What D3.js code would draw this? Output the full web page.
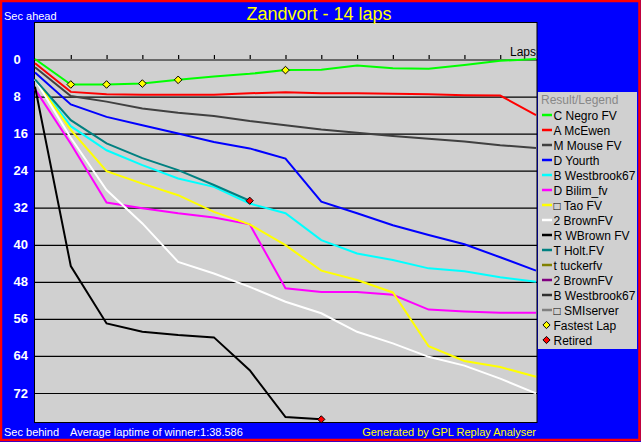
<!DOCTYPE html>
<html><head><meta charset="utf-8">
<script src="https://cdn.jsdelivr.net/npm/d3@7"></script>
<style>
html,body{margin:0;padding:0;background:#0000ff;}
svg{display:block;}
text{font-family:Arial,"Liberation Sans",sans-serif;}
</style></head>
<body>
<svg id="c" width="641" height="442"></svg>
<script>
// ---- data ----
const laps = [0,1,2,3,4,5,6,7,8,9,10,11,12,13,14];
const yTicks = [0,8,16,24,32,40,48,56,64,72];
const negro     = [0,5.5,5.5,5.3,4.5,3.8,3.2,2.4,2.3,1.4,2.0,2.1,1.3,0.4,0];
const mcewen    = [0.9,7.1,7.6,7.7,7.7,7.7,7.4,7.2,7.4,7.4,7.5,7.6,7.8,7.9,12.1];
const mouse     = [1.8,8.0,9.2,10.7,11.6,12.3,13.4,14.3,15.2,15.9,16.6,17.2,17.8,18.6,19.2];
const yourth    = [2.9,9.8,12.5,14.3,16.1,17.9,19.3,21.5,30.8,33.3,35.9,38.0,40.0,42.8,45.7];
const westbrook = [4.4,14.5,19.7,22.9,25.8,27.6,31.2,33.3,39.1,42.0,43.4,45.2,45.8,47.1,48.1];
const bilim     = [6.5,18.3,31.0,32.2,33.3,34.2,35.7,49.5,50.3,50.3,50.9,54.1,54.5,54.8,54.8];
const tao       = [4.4,15.3,24.2,26.9,29.4,33.0,35.7,40.2,45.7,47.7,50.4,62.0,65.2,66.5,68.6];
const brown2    = [4.4,17.0,28.3,35.5,43.8,46.3,49.2,52.4,54.9,58.9,61.4,64.3,66.2,69.0,72.2];
const wbrown    = [6.0,44.7,57.1,58.9,59.6,60.1,67.2,77.3,77.8];
const holt      = [4.4,13.2,18.2,21.4,24.0,27.2,30.6];
const fastestLaps = [1,2,3,4,7];      // laps where C Negro FV set fastest lap
const legendNames = ["C Negro FV","A McEwen","M Mouse FV","D Yourth","B Westbrook67","D Bilim_fv","\u25A1 Tao FV","2 BrownFV","R WBrown FV","T Holt.FV","t tuckerfv","2 BrownFV","B Westbrook67","\u25A1 SMIserver"];
const legendColors = ["#00ff00","#ff0000","#404040","#0000ff","#00ffff","#ff00ff","#ffff00","#ffffff","#000000","#008080","#808000","#800080","#303030","#808080"];
const drawnSeries = [negro,mcewen,mouse,yourth,westbrook,bilim,tao,brown2,wbrown,holt];

// ---- chart ----
const svg = d3.select("#c");
const W = 641, H = 442;
svg.append("rect").attr("x",0).attr("y",0).attr("width",W).attr("height",H).attr("fill","#0000ff");

const plot = {l:34.5, t:22.5, r:537, b:422.5};
svg.append("rect").attr("x",plot.l).attr("y",plot.t).attr("width",plot.r-plot.l).attr("height",plot.b-plot.t)
  .attr("fill","#d0d0d0").attr("stroke","#000").attr("stroke-width",1);

const x = d3.scaleLinear().domain([0,14]).range([35,536]);
const y = d3.scaleLinear().domain([0,72]).range([59,392.5]);

// horizontal grid
const grid = svg.append("g").attr("transform",`translate(${plot.l},0)`)
  .call(d3.axisLeft(y).tickValues(yTicks).tickSize(-(plot.r-plot.l)).tickFormat(""));
grid.select(".domain").remove();
grid.selectAll("line").attr("stroke","#000").attr("stroke-width",1.2).attr("transform","translate(0,0.5)");

// lap ticks on the zero line
const lapAxis = svg.append("g").attr("transform",`translate(0,${y(0)})`)
  .call(d3.axisTop(x).tickValues(laps.slice(1,14)).tickSize(4).tickFormat(""));
lapAxis.select(".domain").remove();
lapAxis.selectAll("line").attr("stroke","#000").attr("stroke-width",1.2);

// y labels
svg.append("g").selectAll("text").data(yTicks).join("text")
  .attr("x",13.5).attr("y",d=>y(d)+5)
  .attr("fill","#fff").attr("font-weight","bold").attr("font-size","13px")
  .text(d=>d);

svg.append("text").attr("x",536).attr("y",56).attr("text-anchor","end")
  .attr("font-size","12px").attr("fill","#000").text("Laps");

// lines
const line = d3.line().x((d,i)=>x(laps[i])).y(d=>y(d));
drawnSeries.forEach((s,k)=>{
  svg.append("path").datum(s).attr("d",line).attr("fill","none")
    .attr("stroke",legendColors[k]).attr("stroke-width",2).attr("stroke-linejoin","miter");
});

// fastest lap markers
const diamond = (cx,cy,r)=>`M${cx},${cy-r}L${cx+r},${cy}L${cx},${cy+r}L${cx-r},${cy}Z`;
svg.append("g").selectAll("path").data(fastestLaps).join("path")
  .attr("d",d=>diamond(x(d),y(negro[d]),3.8))
  .attr("fill","#ffff00").attr("stroke","#000").attr("stroke-width",1);

// retired markers
const retired = [holt, wbrown];
svg.append("g").selectAll("path").data(retired).join("path")
  .attr("d",s=>diamond(x(laps[s.length-1]),y(s[s.length-1]),3.6))
  .attr("fill","#ff0000").attr("stroke","#000").attr("stroke-width",1);

// titles / texts
svg.append("text").attr("x",319).attr("y",19.5).attr("text-anchor","middle")
  .attr("font-size","18px").attr("fill","#ffff00").text("Zandvort - 14 laps");
svg.append("text").attr("x",4).attr("y",19.5).attr("font-size","11px").attr("fill","#fff").text("Sec ahead");
svg.append("text").attr("x",4).attr("y",435.5).attr("font-size","11px").attr("fill","#fff").text("Sec behind");
svg.append("text").attr("x",70).attr("y",435.5).attr("font-size","11px").attr("fill","#fff").text("Average laptime of winner:1:38.586");
svg.append("text").attr("x",536).attr("y",435.5).attr("text-anchor","end").attr("font-size","11px").attr("fill","#ffff00").text("Generated by GPL Replay Analyser");

// legend
const lg = svg.append("g");
lg.append("rect").attr("x",538).attr("y",92).attr("width",99).attr("height",257).attr("fill","#d0d0d0");
lg.append("text").attr("x",541).attr("y",104).attr("font-size","12px").attr("fill","#888").text("Result/Legend");
const items = lg.selectAll("g.it").data(legendNames).join("g").attr("class","it")
  .attr("transform",(d,i)=>`translate(0,${115+15*i})`);
items.append("line").attr("x1",542).attr("x2",552).attr("y1",0).attr("y2",0)
  .attr("stroke",(d,i)=>legendColors[i]).attr("stroke-width",2.5);
items.append("text").attr("x",553.5).attr("y",4.5).attr("font-size","12px").attr("fill","#000").text(d=>d);
const mk = [{t:"Fastest Lap",c:"#ffff00"},{t:"Retired",c:"#ff0000"}];
const mg = lg.selectAll("g.mk").data(mk).join("g").attr("class","mk")
  .attr("transform",(d,i)=>`translate(0,${115+15*(legendNames.length+i)})`);
mg.append("path").attr("d",diamond(546.5,0,3.6)).attr("fill",d=>d.c).attr("stroke","#000").attr("stroke-width",1);
mg.append("text").attr("x",553.5).attr("y",4.5).attr("font-size","12px").attr("fill","#000").text(d=>d.t);

// red outer frame
svg.append("rect").attr("x",1).attr("y",1).attr("width",W-2.5).attr("height",H-3)
  .attr("fill","none").attr("stroke","#ff0000").attr("stroke-width",2.5);
</script>
</body></html>
